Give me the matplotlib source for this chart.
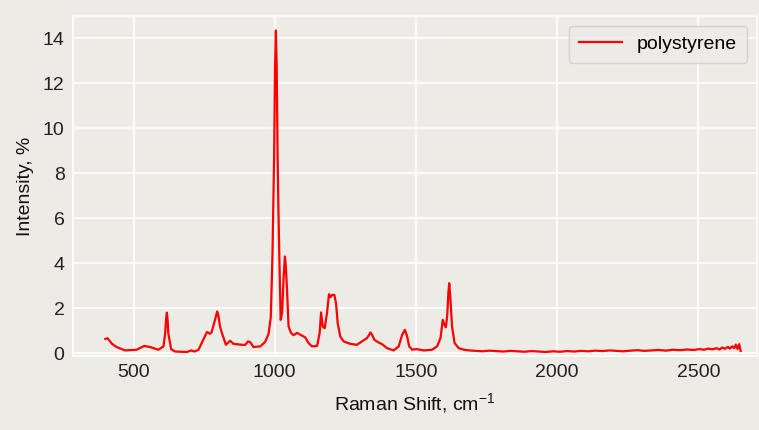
import matplotlib
matplotlib.use("Agg")
import matplotlib.pyplot as plt
import numpy as np

# Raman shift (cm-1) and intensity (%)
shift = [
    400, 408, 423, 440, 470, 511, 538, 558, 588, 606, 612, 615, 618, 621,
    623, 633, 647, 689, 704, 716, 730, 760, 771, 776, 790, 796, 800, 806,
    813, 827, 842, 854, 884, 896, 905, 913, 925, 949, 966, 978, 986, 992,
    995, 998, 1001, 1004, 1007, 1010, 1013, 1016, 1021, 1026, 1031, 1036,
    1039, 1043, 1049, 1058, 1067, 1079, 1096, 1108, 1120, 1132, 1150, 1159,
    1164, 1170, 1177, 1185, 1192, 1197, 1203, 1211, 1217, 1223, 1232, 1244,
    1268, 1291, 1309, 1327, 1339, 1345, 1353, 1368, 1380, 1398, 1421, 1439,
    1451, 1461, 1469, 1476, 1487, 1501, 1528, 1557, 1575, 1587, 1595, 1601,
    1606, 1611, 1615, 1618, 1622, 1628, 1637, 1652, 1670, 1689, 1710, 1735,
    1760, 1785, 1810, 1835, 1860, 1885, 1910, 1935, 1960, 1985, 2010, 2035,
    2060, 2085, 2110, 2135, 2160, 2185, 2210, 2235, 2260, 2285, 2310, 2335,
    2360, 2385, 2410, 2435, 2460, 2485, 2505, 2520, 2535, 2550, 2565, 2575,
    2585, 2595, 2605, 2612, 2620, 2627, 2633, 2639, 2645, 2650,
]
intensity = [
    0.63, 0.66, 0.42, 0.27, 0.12, 0.15, 0.32, 0.27, 0.15, 0.30, 0.89, 1.50,
    1.80, 1.40, 0.89, 0.18, 0.07, 0.05, 0.12, 0.07, 0.15, 0.94, 0.86, 0.92,
    1.55, 1.85, 1.70, 1.20, 0.89, 0.37, 0.55, 0.41, 0.37, 0.37, 0.52, 0.49,
    0.27, 0.30, 0.50, 0.85, 1.60, 4.40, 6.60, 8.90, 12.70, 14.35, 12.70,
    8.90, 6.40, 4.40, 1.48, 1.78, 3.26, 4.30, 3.90, 2.96, 1.18, 0.89, 0.80,
    0.90, 0.78, 0.70, 0.44, 0.30, 0.32, 0.89, 1.81, 1.18, 1.11, 1.78, 2.62,
    2.49, 2.59, 2.59, 2.22, 1.33, 0.74, 0.52, 0.41, 0.37, 0.52, 0.67, 0.92,
    0.81, 0.59, 0.47, 0.40, 0.22, 0.12, 0.30, 0.81, 1.04, 0.74, 0.30, 0.15,
    0.18, 0.12, 0.15, 0.30, 0.67, 1.48, 1.26, 1.15, 1.70, 2.70, 3.11, 2.44,
    1.18, 0.44, 0.22, 0.15, 0.12, 0.10, 0.08, 0.11, 0.09, 0.07, 0.10, 0.08,
    0.06, 0.09, 0.07, 0.05, 0.08, 0.06, 0.09, 0.07, 0.10, 0.08, 0.11, 0.09,
    0.12, 0.10, 0.08, 0.11, 0.13, 0.10, 0.12, 0.14, 0.11, 0.15, 0.13, 0.16,
    0.14, 0.18, 0.15, 0.20, 0.17, 0.22, 0.16, 0.25, 0.19, 0.28, 0.20, 0.30,
    0.22, 0.38, 0.18, 0.40, 0.10,
]

bg = "#ecebe6"

plt.rcParams["font.family"] = ["Liberation Sans", "DejaVu Sans"]
plt.rcParams["font.size"] = 14

fig = plt.figure(figsize=(7.59, 4.30), dpi=100, facecolor=bg)
ax = fig.add_axes([0.096, 0.172, 0.901, 0.791], facecolor=bg)

ax.grid(True, color="white", linewidth=1.2)
ax.set_axisbelow(True)
ax.plot(shift, intensity, color="#ff0000", linewidth=1.6, label="polystyrene")

ax.set_xlim(285, 2707)
ax.set_ylim(-0.13, 15.0)
ax.set_xticks([500, 1000, 1500, 2000, 2500])
ax.set_yticks(np.arange(0, 15, 2))
ax.tick_params(length=0, pad=6, labelsize=14, colors="#222222")

for s in ax.spines.values():
    s.set_color("white")
    s.set_linewidth(1.2)

ax.set_xlabel("Raman Shift, cm$^{\\mathregular{-1}}$", fontsize=14,
              color="#111111", labelpad=7)
ax.set_ylabel("Intensity, %", fontsize=14, color="#111111", labelpad=6)

leg = ax.legend(loc="upper right", fontsize=14, frameon=True, fancybox=True,
                handlelength=2.2, borderpad=0.5)
leg.get_frame().set_facecolor(bg)
leg.get_frame().set_edgecolor("#cccccc")

fig.savefig("out.png", dpi=100, facecolor=bg)
